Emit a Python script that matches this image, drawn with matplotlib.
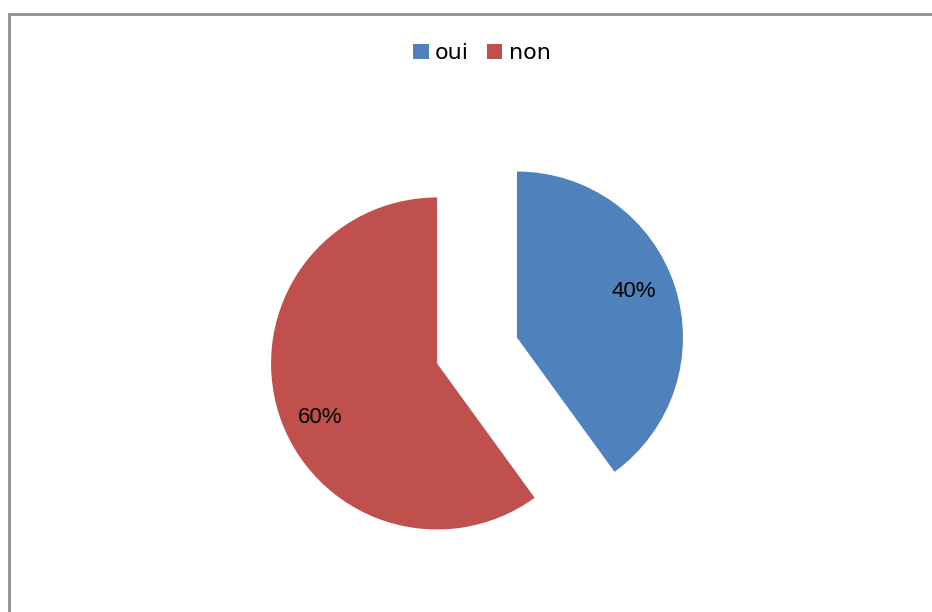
import numpy as np
import matplotlib.pyplot as plt
from matplotlib.patches import Rectangle, Patch

# données
categories = ['oui', 'non']
valeurs = [40, 60]
couleurs = ['#4F81BD', '#C0504D']

W, H = 932, 612
fig = plt.figure(figsize=(W / 100, H / 100), dpi=100)
ax = fig.add_axes([0, 0, 1, 1])

# camembert éclaté
wedges, texts, autotexts = ax.pie(
    valeurs, colors=couleurs, startangle=90, counterclock=False,
    center=(477, H - 350.5), radius=166, explode=[42, 42],
    autopct='%1.0f%%', pctdistance=0.765,
    textprops={'fontsize': 16, 'family': 'Liberation Sans', 'color': 'black'},
    wedgeprops={'linewidth': 0},
)
# étiquettes un peu tournées comme dans l'original
for w, t in zip(wedges, autotexts):
    ang = np.deg2rad((w.theta1 + w.theta2) / 2 + 5)
    cx, cy = w.center
    t.set_position((cx + 0.765 * w.r * np.cos(ang),
                    cy + 0.765 * w.r * np.sin(ang) - 4))

# pie() remet ses propres limites, on les fixe après
ax.set_xlim(0, W)
ax.set_ylim(0, H)
ax.set_aspect('equal')
ax.axis('off')

# légende
handles = [Patch(facecolor=c, edgecolor='none') for c in couleurs]
fig.legend(handles, categories, loc='center', ncol=2, frameon=False,
           bbox_to_anchor=(482 / W, 1 - 53 / H), fontsize=16,
           handlelength=0.68, handleheight=0.68, handletextpad=0.3,
           columnspacing=0.8)

# cadre
fig.patches.append(Rectangle((9, -20), W + 40, H - 14 + 20, transform=None,
                             fill=False, edgecolor='#8e8e8e', linewidth=2))

fig.savefig('out.png', dpi=100)
